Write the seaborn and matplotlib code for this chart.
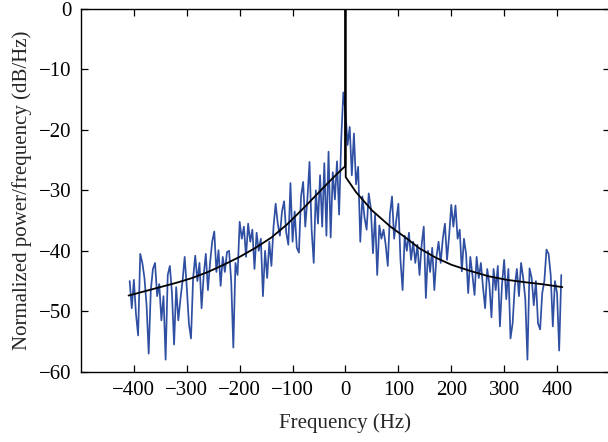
import numpy as np
import pandas as pd
import matplotlib
matplotlib.use("Agg")
import matplotlib.pyplot as plt
import seaborn as sns

# ---- data ----
freq_start, freq_stop, freq_step = -408, 408, 4
psd_a = [-45.0, -49.5, -44.8, -50.5, -54.0, -40.5, -42.0, -44.5, -49.0, -57.0,
         -46.5, -43.0, -42.0, -47.5, -45.5, -51.5, -47.5, -58.0, -44.0, -42.5,
         -47.0, -55.5, -46.0, -51.5, -48.0, -45.0, -41.0, -46.0, -52.0, -54.5,
         -44.5, -40.8, -45.0]
psd_b = [-42.0, -49.5, -44.0, -40.5, -46.5, -42.0, -38.5, -36.8, -43.5, -39.9,
         -45.8, -41.0, -43.5, -40.2, -40.0, -45.0, -56.0, -42.0, -44.0, -35.2,
         -38.0, -36.0, -41.0, -35.5, -38.5, -36.5, -43.0, -37.0, -40.0, -38.0,
         -47.5, -40.0, -44.5, -38.5]
psd_c = [-42.5, -36.0, -32.2, -35.5, -37.5, -33.5, -31.8, -37.0, -39.0, -28.8,
         -38.5, -33.5, -39.5, -40.3, -31.0, -28.6, -36.0, -31.5, -25.3, -36.5,
         -42.0, -30.0, -35.5, -27.5, -36.0, -25.5, -37.5, -23.6, -37.8, -27.0,
         -31.5, -25.2, -34.0, -21.5, -13.8]
psd_d = [-17.0, -22.5, -19.5, -27.5, -20.6, -29.0, -26.1, -38.5, -31.0, -34.5,
         -36.5, -30.5, -33.0, -40.4, -34.0, -44.0, -35.8, -38.0, -36.5, -39.0,
         -42.5, -34.0, -31.0, -38.0, -35.0, -32.2, -41.5, -46.5, -37.5, -40.0,
         -37.0, -41.5, -38.5, -42.0, -39.0]
psd_e = [-44.0, -39.0, -36.0, -47.8, -40.0, -43.5, -39.5, -46.5, -41.0, -38.5,
         -42.0, -38.0, -35.5, -41.5, -37.5, -32.4, -36.0, -32.5, -38.0, -36.5,
         -43.4, -38.0, -40.5, -47.0, -41.0, -44.0, -47.3, -41.0, -44.5, -42.0,
         -46.0, -49.5, -43.0, -45.5]
psd_f = [-51.0, -43.0, -46.5, -42.5, -52.5, -45.5, -41.5, -48.0, -43.0, -54.5,
         -52.0, -46.0, -43.0, -47.5, -42.0, -44.5, -48.0, -58.0, -42.9, -44.5,
         -49.0, -45.0, -52.0, -53.0, -47.0, -45.0, -39.8, -40.5, -44.0, -52.5,
         -45.0, -47.0, -56.5, -44.0]

fit_freq = [-410, -380, -350, -320, -290, -260, -230, -200, -170, -140, -110,
            -80, -50, -30, -15, -3, -0.5, 0, 0.5, 20, 50, 85, 115, 140, 170,
            200, 235, 270, 305, 340, 370, 410]
fit_db = [-47.4, -46.7, -46.0, -45.3, -44.5, -43.5, -42.3, -41.0, -39.5, -37.8,
          -35.6, -33.0, -30.3, -28.5, -27.2, -26.2, -26.0, 0.0, -27.8, -30.3,
          -33.3, -36.0, -37.9, -39.6, -41.1, -42.3, -43.3, -44.2, -44.8, -45.2,
          -45.5, -46.0]

x_ticks = [-400, -300, -200, -100, 0, 100, 200, 300, 400]
y_ticks = [0, -10, -20, -30, -40, -50, -60]

# ---- build frames ----
psd = psd_a + psd_b + psd_c + psd_d + psd_e + psd_f
freq = np.arange(freq_start, freq_stop + freq_step, freq_step)[:len(psd)]
df_psd = pd.DataFrame({"f": freq, "p": psd})
df_fit = pd.DataFrame({"f": fit_freq, "p": fit_db})

sns.set_style("ticks")
plt.rcParams["font.family"] = ["Liberation Serif", "DejaVu Serif"]
plt.rcParams["axes.unicode_minus"] = True

fig = plt.figure(figsize=(6.08, 4.42), dpi=100)
ax = fig.add_axes([0.1332, 0.159, 0.870, 0.8206])

sns.lineplot(data=df_psd, x="f", y="p", ax=ax, color="#2f4fa2",
             linewidth=1.25, estimator=None, sort=False)
sns.lineplot(data=df_fit, x="f", y="p", ax=ax, color="black",
             linewidth=1.3, estimator=None, sort=False)

ax.set_xlim(-500, 500)
ax.set_ylim(-60, 0)
ax.set_xticks(x_ticks)
ax.set_yticks(y_ticks)
ax.set_xticklabels([f"{t}".replace("-", "\u2212") for t in x_ticks])
ax.set_yticklabels([f"{t}".replace("-", "\u2212") for t in y_ticks])
ax.tick_params(direction="in", length=5, width=0.9, top=True, right=True,
               labelsize=15, colors="black", pad=7)
for s in ax.spines.values():
    s.set_visible(True)
    s.set_linewidth(1.0)
    s.set_color("black")
ax.set_xlabel("Frequency (Hz)", fontsize=15, labelpad=9)
ax.set_ylabel("Normalized power/frequency (dB/Hz)", fontsize=15, labelpad=5)

fig.savefig("out.png", dpi=100)
